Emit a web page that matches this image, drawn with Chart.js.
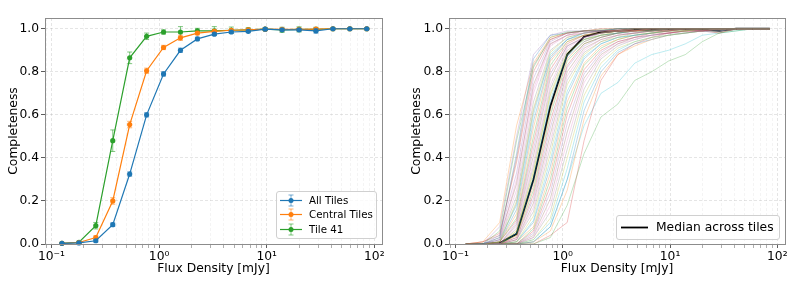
<!DOCTYPE html>
<html>
<head>
<meta charset="utf-8">
<script src="https://cdn.jsdelivr.net/npm/chart.js@4.4.1/dist/chart.umd.min.js"></script>
<style>
  body { margin: 0; background: #fff; width: 793px; height: 289px; overflow: hidden; font-family: "DejaVu Sans", sans-serif; }
  .panel { position: absolute; top: 0; height: 289px; }
  #p1 { left: 0; width: 400px; }
  #p2 { left: 400px; width: 393px; }
  .legend { position: absolute; background: rgba(255,255,255,0.8); border: 1px solid #d0d0d0; border-radius: 3px; box-sizing: border-box; color: #000; }
  .legend svg { position: absolute; }
  .legend span { position: absolute; white-space: nowrap; }
</style>
</head>
<body>
<div class="panel" id="p1"><canvas id="c1" width="400" height="289"></canvas></div>
<div class="panel" id="p2"><canvas id="c2" width="393" height="289"></canvas></div>
<div class="legend" id="leg1" style="left:276px;top:191px;width:101px;height:48px"></div>
<div class="legend" id="leg2" style="left:616px;top:215px;width:164px;height:25px"></div>
<script>
// flux bins (mJy)
const FLUX = [0.125, 0.18, 0.258, 0.371, 0.533, 0.766, 1.10, 1.58, 2.27, 3.26, 4.69, 6.74, 9.68, 13.9, 20.0, 28.7, 41.3, 59.3, 85.2];

const SERIES_NAMES = ['All Tiles', 'Central Tiles', 'Tile 41'];
const SERIES_COLORS = ['#1f77b4', '#ff7f0e', '#2ca02c'];

const ALL_TILES     = [0.003, 0.005, 0.015, 0.09, 0.325, 0.60, 0.79, 0.90, 0.953, 0.975, 0.985, 0.988, 0.998, 0.995, 0.995, 0.99, 1.0, 1.0, 1.0];
const ALL_TILES_ERR = [0.002, 0.003, 0.006, 0.008, 0.01, 0.01, 0.01, 0.01, 0.008, 0.006, 0.005, 0.006, 0.005, 0.006, 0.006, 0.01, 0.002, 0.002, 0.002];
const CENTRAL       = [0.003, 0.007, 0.03, 0.20, 0.555, 0.805, 0.913, 0.958, 0.98, 0.988, 0.993, 0.995, 0.998, 0.997, 0.997, 0.998, 1.0, 1.0, 1.0];
const CENTRAL_ERR   = [0.002, 0.003, 0.008, 0.015, 0.015, 0.012, 0.01, 0.012, 0.008, 0.006, 0.005, 0.005, 0.004, 0.006, 0.006, 0.006, 0.002, 0.002, 0.002];
const TILE_41       = [0.003, 0.008, 0.085, 0.48, 0.865, 0.965, 0.985, 0.985, 0.99, 0.99, 0.993, 0.995, 0.998, 0.995, 0.997, 0.997, 1.0, 1.0, 1.0];
const TILE_41_ERR   = [0.003, 0.005, 0.015, 0.05, 0.027, 0.015, 0.01, 0.025, 0.012, 0.02, 0.015, 0.01, 0.006, 0.012, 0.012, 0.01, 0.003, 0.003, 0.003];

const MEDIAN = [0.0, 0.0, 0.004, 0.047, 0.30, 0.64, 0.88, 0.963, 0.984, 0.99, 0.995, 0.995, 0.998, 0.998, 0.997, 0.99, 1.0, 1.0, 1.0];
const MEDIAN_NAME = 'Median across tiles';

// per-tile completeness curves (right panel)
const TILE_CURVES = [
  [0,0,0.03,0.42,0.86,0.97,0.98,0.99,0.99,1,1,1,1,1,1,1,1,1,1],
  [0,0.01,0.10,0.55,0.84,0.96,0.98,0.99,1,1,1,1,1,1,1,1,1,1,1],
  [0,0,0.06,0.48,0.82,0.96,0.985,0.99,0.995,1,1,1,1,1,1,1,1,1,1],
  [0,0.01,0.05,0.38,0.80,0.95,0.98,0.99,0.99,0.995,1,1,1,1,1,1,1,1,1],
  [0,0,0.04,0.33,0.77,0.94,0.98,0.99,0.99,1,1,1,1,1,1,1,1,1,1],
  [0,0,0.03,0.28,0.74,0.93,0.97,0.99,0.99,1,1,1,1,1,1,1,1,1,1],
  [0,0,0.02,0.25,0.70,0.92,0.97,0.98,0.99,0.99,1,1,1,1,1,1,1,1,1],
  [0,0,0.02,0.22,0.66,0.90,0.96,0.98,0.99,0.99,1,1,1,1,1,1,1,1,1],
  [0,0,0.01,0.20,0.63,0.89,0.96,0.98,0.99,0.99,1,1,1,1,1,1,1,1,1],
  [0,0,0.02,0.18,0.60,0.88,0.95,0.98,0.99,1,1,1,1,1,1,1,1,1,1],
  [0,0,0.01,0.16,0.57,0.86,0.95,0.98,0.99,0.99,1,1,1,1,1,1,1,1,1],
  [0,0,0.01,0.14,0.54,0.85,0.94,0.97,0.99,0.99,0.99,1,1,1,1,1,1,1,1],
  [0,0,0.01,0.12,0.50,0.83,0.94,0.97,0.98,0.99,1,1,1,1,1,1,1,1,1],
  [0,0,0.01,0.11,0.47,0.81,0.93,0.97,0.98,0.99,0.99,1,1,1,1,1,1,1,1],
  [0,0,0,0.10,0.44,0.79,0.92,0.96,0.98,0.99,0.99,1,1,1,1,1,1,1,1],
  [0,0,0,0.09,0.41,0.77,0.92,0.96,0.98,0.99,1,1,1,1,1,1,1,1,1],
  [0,0,0,0.08,0.38,0.74,0.91,0.96,0.98,0.99,0.99,1,1,1,1,1,1,1,1],
  [0,0,0,0.07,0.36,0.72,0.90,0.95,0.98,0.99,0.99,0.99,1,1,1,1,1,1,1],
  [0,0,0,0.06,0.33,0.70,0.89,0.95,0.97,0.99,0.99,1,1,1,1,1,1,1,1],
  [0,0,0,0.05,0.31,0.67,0.88,0.95,0.97,0.98,0.99,0.99,1,1,1,1,1,1,1],
  [0,0,0,0.05,0.29,0.65,0.87,0.94,0.97,0.98,0.99,1,1,1,1,1,1,1,1],
  [0,0,0,0.04,0.27,0.62,0.86,0.94,0.97,0.98,0.99,0.99,1,1,1,1,1,1,1],
  [0,0,0,0.04,0.25,0.60,0.85,0.93,0.96,0.98,0.99,0.99,1,1,1,1,1,1,1],
  [0,0,0,0.03,0.23,0.57,0.83,0.93,0.96,0.98,0.99,0.99,0.99,1,1,1,1,1,1],
  [0,0,0,0.03,0.21,0.54,0.82,0.92,0.96,0.98,0.98,0.99,1,1,1,1,1,1,1],
  [0,0,0,0.02,0.19,0.51,0.80,0.91,0.95,0.97,0.98,0.99,0.99,1,1,1,1,1,1],
  [0,0,0,0.02,0.17,0.48,0.78,0.90,0.95,0.97,0.98,0.99,0.99,1,1,1,1,1,1],
  [0,0,0,0.02,0.15,0.45,0.76,0.89,0.94,0.97,0.98,0.99,0.99,1,1,1,1,1,1],
  [0,0,0,0.01,0.13,0.42,0.74,0.88,0.94,0.96,0.98,0.98,0.99,0.99,1,1,1,1,1],
  [0,0,0,0.01,0.11,0.39,0.71,0.87,0.93,0.96,0.97,0.98,0.99,0.99,1,1,1,1,1],
  [0,0,0,0.01,0.10,0.36,0.69,0.86,0.93,0.96,0.97,0.98,0.99,1,1,1,1,1,1],
  [0,0,0,0.01,0.08,0.33,0.66,0.84,0.92,0.95,0.97,0.98,0.99,0.99,1,1,1,1,1],
  [0,0,0,0,0.07,0.30,0.63,0.83,0.91,0.95,0.97,0.98,0.99,0.99,1,1,1,1,1],
  [0,0,0,0,0.06,0.27,0.60,0.81,0.90,0.94,0.96,0.98,0.98,0.99,0.99,1,1,1,1],
  [0,0,0,0,0.05,0.24,0.56,0.79,0.89,0.94,0.96,0.97,0.98,0.99,0.99,1,1,1,1],
  [0,0,0,0,0.04,0.21,0.52,0.77,0.88,0.93,0.96,0.97,0.98,0.99,0.99,1,1,1,1],
  [0,0,0,0,0.03,0.18,0.48,0.75,0.87,0.93,0.95,0.97,0.98,0.99,0.99,0.99,1,1,1],
  [0,0,0,0,0.03,0.15,0.44,0.72,0.86,0.92,0.95,0.97,0.98,0.98,0.99,1,1,1,1],
  [0,0,0,0,0.02,0.12,0.40,0.69,0.84,0.91,0.94,0.96,0.97,0.98,0.99,1,1,1,1],
  [0,0,0,0,0.02,0.10,0.35,0.66,0.82,0.90,0.94,0.96,0.97,0.98,0.99,0.99,1,1,1],
  [0,0,0,0,0.01,0.08,0.30,0.62,0.80,0.89,0.93,0.95,0.97,0.98,0.99,0.99,1,1,1],
  [0,0,0,0,0.01,0.06,0.25,0.58,0.78,0.88,0.92,0.95,0.97,0.98,0.99,0.99,1,1,1],
  [0,0,0,0,0,0.03,0.18,0.42,0.59,0.65,0.76,0.80,0.85,0.88,0.94,0.98,0.99,1,1],
  [0,0,0,0,0,0.04,0.10,0.48,0.76,0.88,0.93,0.96,0.98,0.99,0.99,1,1,1,1],
  [0,0,0.08,0.50,0.88,0.97,0.99,0.99,1,1,1,1,1,1,1,1,1,1,1],
  [0,0.01,0.04,0.40,0.83,0.95,0.98,0.99,0.99,0.99,1,1,1,1,0.99,0.98,1,1,1],
  [0,0,0.02,0.30,0.72,0.93,0.97,0.98,0.99,0.99,0.99,1,1,0.99,0.99,0.98,1,1,1],
  [0,0,0.01,0.19,0.62,0.87,0.95,0.97,0.98,0.99,0.99,0.99,1,1,0.99,0.99,1,1,1],
  [0,0,0,0.06,0.34,0.69,0.88,0.95,0.97,0.98,0.99,0.99,0.99,1,1,0.98,1,1,1],
  [0,0,0,0,0.01,0.08,0.30,0.55,0.70,0.75,0.84,0.88,0.90,0.93,0.97,0.98,0.99,1,1]
];
const TAB10 = ['#1f77b4','#ff7f0e','#2ca02c','#d62728','#9467bd','#8c564b','#e377c2','#7f7f7f','#bcbd22','#17becf'];

const X_MIN = 0.087, X_MAX = 118;
const X_TICK_VALUES = [0.1, 1, 10, 100];
const X_TICK_LABELS = ['10⁻¹', '10⁰', '10¹', '10²'];
const Y_TICK_VALUES = [0, 0.2, 0.4, 0.6, 0.8, 1.0];

const FONT = { family: 'DejaVu Sans', size: 12.3 };

const pts = ys => ys.map((v, i) => ({ x: FLUX[i], y: v }));
const majorIdx = v => X_TICK_VALUES.findIndex(t => Math.abs(v / t - 1) < 1e-6);

function hexA(hex, a) {
  const n = parseInt(hex.slice(1), 16);
  return `rgba(${n >> 16},${(n >> 8) & 255},${n & 255},${a})`;
}

// x ticks at 1..9 x 10^n inside the range
function logTicks(scale) {
  const t = [];
  for (let e = -2; e <= 2; e++) {
    for (let m = 1; m <= 9; m++) {
      const v = m * Math.pow(10, e);
      if (v >= X_MIN && v <= X_MAX) t.push({ value: v });
    }
  }
  scale.ticks = t;
}

function xAxis(titlePad) {
  return {
    type: 'logarithmic', min: X_MIN, max: X_MAX,
    afterBuildTicks: logTicks,
    afterFit: s => { s.height = 45; },
    ticks: {
      autoSkip: false, maxRotation: 0, padding: 1, color: '#000', font: FONT,
      callback: v => majorIdx(v) >= 0 ? X_TICK_LABELS[majorIdx(v)] : ''
    },
    grid: {
      tickLength: 4, lineWidth: 0.8, tickWidth: 0.8,
      color: c => majorIdx(c.tick.value) >= 0 ? 'rgba(0,0,0,0.13)' : 'rgba(0,0,0,0.06)',
      tickColor: c => majorIdx(c.tick.value) >= 0 ? '#333' : '#999'
    },
    border: { display: false, dash: [3, 2] },
    title: { display: true, text: 'Flux Density [mJy]', color: '#000', font: FONT, padding: { top: 0, bottom: titlePad } }
  };
}

function yAxis(width, titlePad) {
  return {
    min: 0, max: 1.05,
    afterBuildTicks: s => { s.ticks = Y_TICK_VALUES.map(v => ({ value: v })); },
    afterFit: s => { s.width = width; },
    ticks: { padding: 2, color: '#000', font: FONT, callback: v => v.toFixed(1) },
    grid: { tickLength: 4, lineWidth: 0.8, tickWidth: 0.8, color: 'rgba(0,0,0,0.13)', tickColor: '#333' },
    border: { display: false, dash: [3, 2] },
    title: { display: true, text: 'Completeness', color: '#000', font: FONT, padding: { top: titlePad, bottom: 0 } }
  };
}

// matplotlib-like frame round the axes
const frame = {
  id: 'frame',
  afterDraw(chart) {
    const { ctx, chartArea: a } = chart;
    ctx.save();
    ctx.strokeStyle = '#8c8c8c';
    ctx.lineWidth = 1;
    ctx.strokeRect(Math.round(a.left) + 0.5, Math.round(a.top) + 0.5, Math.round(a.right - a.left), Math.round(a.bottom - a.top));
    ctx.restore();
  }
};

// vertical error bars with caps, drawn with each dataset
const errorBars = {
  id: 'errorBars',
  afterDatasetDraw(chart, args) {
    const ds = chart.data.datasets[args.index];
    if (!ds.errors) return;
    const { ctx, scales: { x, y } } = chart;
    ctx.save();
    ctx.strokeStyle = hexA(ds.borderColor, 0.6);
    ctx.lineWidth = 1;
    ds.data.forEach((p, j) => {
      const e = ds.errors[j];
      const px = x.getPixelForValue(p.x);
      const y0 = y.getPixelForValue(p.y - e), y1 = y.getPixelForValue(Math.min(p.y + e, 1.05));
      ctx.beginPath();
      ctx.moveTo(px, y0); ctx.lineTo(px, y1);
      ctx.moveTo(px - 2.5, y0); ctx.lineTo(px + 2.5, y0);
      ctx.moveTo(px - 2.5, y1); ctx.lineTo(px + 2.5, y1);
      ctx.stroke();
    });
    ctx.restore();
  }
};

const leftSets = [ALL_TILES, CENTRAL, TILE_41].map((ys, i) => ({
  label: SERIES_NAMES[i],
  data: pts(ys),
  errors: [ALL_TILES_ERR, CENTRAL_ERR, TILE_41_ERR][i],
  borderColor: SERIES_COLORS[i],
  backgroundColor: SERIES_COLORS[i],
  borderWidth: 1.2,
  pointRadius: 2.6,
  pointBorderWidth: 0,
  tension: 0,
  clip: 6
}));

new Chart(document.getElementById('c1'), {
  type: 'line',
  data: { datasets: leftSets },
  options: {
    responsive: false, animation: false, devicePixelRatio: 1,
    layout: { padding: { left: 0, right: 18, top: 18, bottom: 0 } },
    plugins: { legend: { display: false }, tooltip: { enabled: false } },
    scales: { x: xAxis(13), y: yAxis(45, 6) }
  },
  plugins: [errorBars, frame]
});

const rightSets = TILE_CURVES.map((ys, i) => ({
  data: pts(ys),
  borderColor: hexA(TAB10[i % 10], 0.32),
  borderWidth: 0.9,
  pointRadius: 0,
  tension: 0
}));
rightSets.push({
  label: MEDIAN_NAME,
  data: pts(MEDIAN),
  borderColor: '#000',
  borderWidth: 1.8,
  pointRadius: 0,
  tension: 0
});

new Chart(document.getElementById('c2'), {
  type: 'line',
  data: { datasets: rightSets },
  options: {
    responsive: false, animation: false, devicePixelRatio: 1,
    layout: { padding: { left: 0, right: 8, top: 18, bottom: 0 } },
    plugins: { legend: { display: false }, tooltip: { enabled: false } },
    scales: { x: xAxis(13), y: yAxis(49, 9.5) }
  },
  plugins: [frame]
});

// legends
const leg1 = document.getElementById('leg1');
SERIES_NAMES.forEach((name, i) => {
  const top = 1.5 + i * 14.6;
  const c = SERIES_COLORS[i];
  leg1.insertAdjacentHTML('beforeend',
    `<svg style="left:3px;top:${top}px" width="23" height="13">
       <line x1="0" y1="6.5" x2="22" y2="6.5" stroke="${c}" stroke-width="1.2"/>
       <line x1="11" y1="1" x2="11" y2="12" stroke="${hexA(c, 0.6)}" stroke-width="1"/>
       <line x1="8.5" y1="1" x2="13.5" y2="1" stroke="${hexA(c, 0.6)}" stroke-width="1"/>
       <line x1="8.5" y1="12" x2="13.5" y2="12" stroke="${hexA(c, 0.6)}" stroke-width="1"/>
       <circle cx="11" cy="6.5" r="2.5" fill="${c}"/>
     </svg>
     <span style="left:32px;top:${top}px;font-size:10.25px;line-height:13px">${name}</span>`);
});
const leg2 = document.getElementById('leg2');
leg2.insertAdjacentHTML('beforeend',
  `<svg style="left:4px;top:5px" width="28" height="13"><line x1="0" y1="6.5" x2="27" y2="6.5" stroke="#000" stroke-width="1.8"/></svg>
   <span style="left:39px;top:3px;font-size:12.3px;line-height:16px">${MEDIAN_NAME}</span>`);
</script>
</body>
</html>
